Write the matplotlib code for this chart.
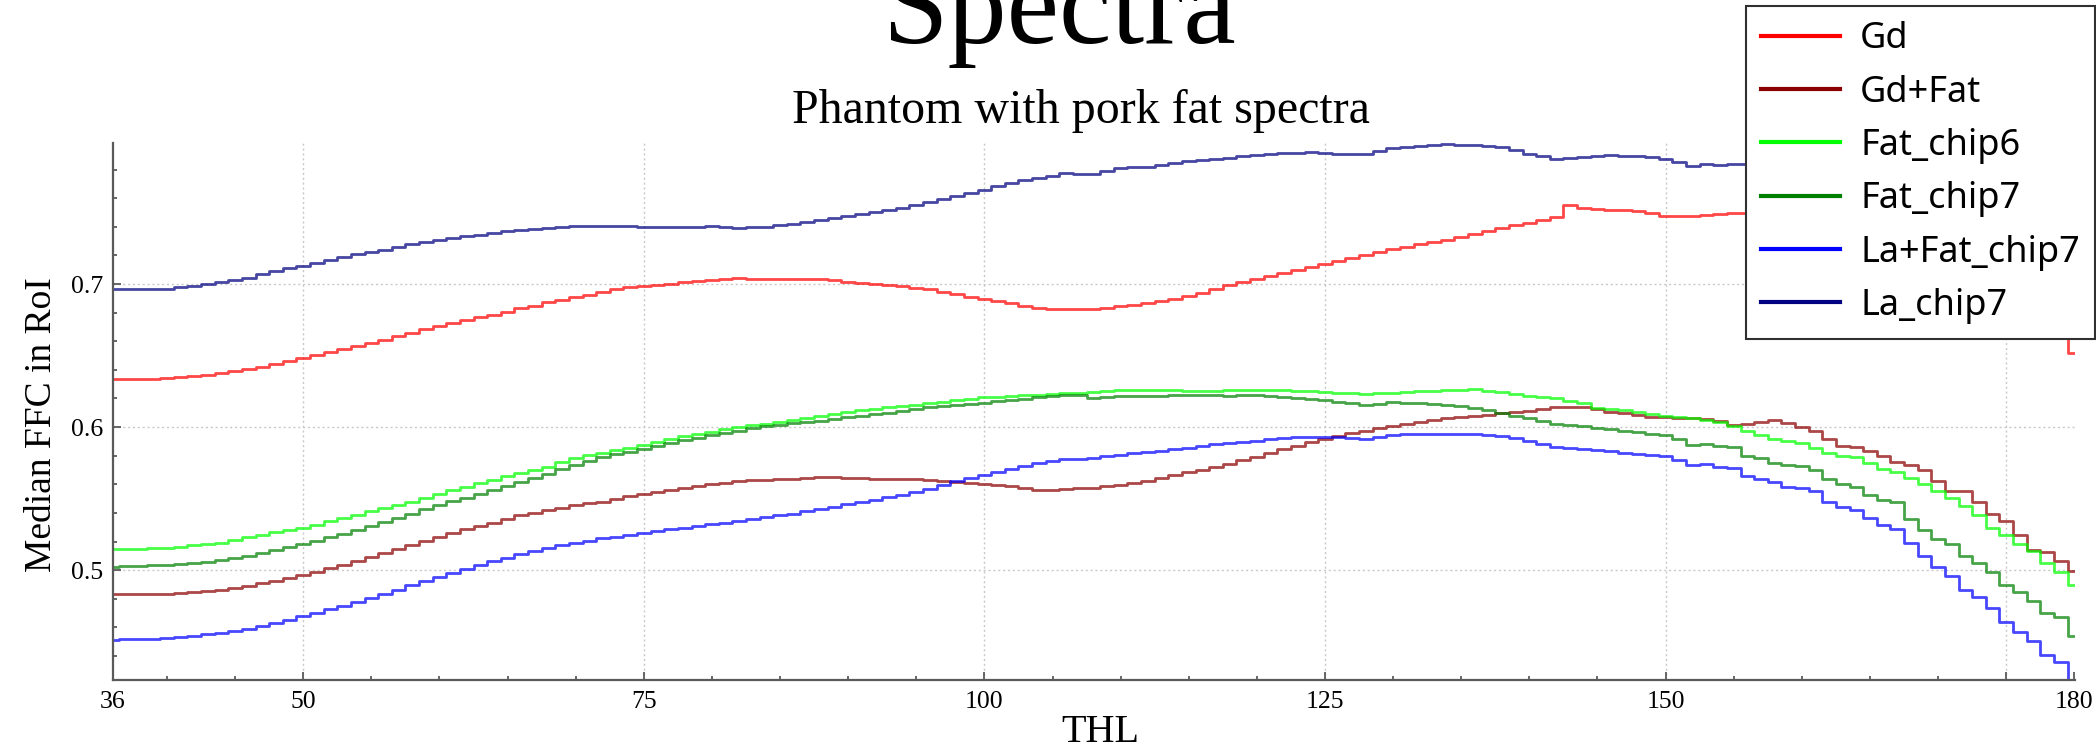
import numpy as np
import matplotlib
matplotlib.use('Agg')
import matplotlib.pyplot as plt
from matplotlib.ticker import MultipleLocator

# THL axis, one value per threshold step
thl = np.arange(36, 181)

gd = [0.6336, 0.6336, 0.6336, 0.6338, 0.6340, 0.6347, 0.6355, 0.6364, 0.6375, 0.6389,
      0.6404, 0.6421, 0.6440, 0.6461, 0.6482, 0.6504, 0.6526, 0.6548, 0.6570, 0.6590,
      0.6611, 0.6636, 0.6660, 0.6684, 0.6708, 0.6729, 0.6750, 0.6768, 0.6786, 0.6808,
      0.6830, 0.6850, 0.6871, 0.6890, 0.6910, 0.6925, 0.6945, 0.6963, 0.6976, 0.6985,
      0.6993, 0.7003, 0.7012, 0.7020, 0.7029, 0.7035, 0.7041, 0.7038, 0.7036, 0.7035,
      0.7034, 0.7038, 0.7036, 0.7027, 0.7017, 0.7008, 0.6998, 0.6990, 0.6983, 0.6974,
      0.6964, 0.6946, 0.6927, 0.6911, 0.6895, 0.6880, 0.6866, 0.6849, 0.6832, 0.6828,
      0.6825, 0.6825, 0.6825, 0.6836, 0.6847, 0.6856, 0.6866, 0.6880, 0.6895, 0.6917,
      0.6939, 0.6966, 0.6993, 0.7015, 0.7036, 0.7057, 0.7078, 0.7100, 0.7122, 0.7142,
      0.7163, 0.7182, 0.7202, 0.7222, 0.7243, 0.7262, 0.7280, 0.7295, 0.7309, 0.7331,
      0.7353, 0.7374, 0.7394, 0.7410, 0.7426, 0.7447, 0.7467, 0.7552, 0.7533, 0.7527,
      0.7521, 0.7515, 0.7509, 0.7494, 0.7479, 0.7476, 0.7474, 0.7480, 0.7487, 0.7499,
      0.7495, 0.7490, 0.7480, 0.7470, 0.7450, 0.7430, 0.7400, 0.7370, 0.7350, 0.7320,
      0.7290, 0.7260, 0.7220, 0.7180, 0.7140, 0.7090, 0.7040, 0.6990, 0.6940, 0.6890,
      0.6840, 0.6790, 0.6740, 0.6700, 0.6520]

gd_fat = [0.4830, 0.4831, 0.4832, 0.4833, 0.4835, 0.4841, 0.4847, 0.4855, 0.4864, 0.4877,
          0.4890, 0.4907, 0.4925, 0.4946, 0.4968, 0.4990, 0.5012, 0.5039, 0.5066, 0.5092,
          0.5119, 0.5147, 0.5175, 0.5203, 0.5231, 0.5258, 0.5285, 0.5309, 0.5333, 0.5358,
          0.5382, 0.5400, 0.5418, 0.5437, 0.5455, 0.5467, 0.5479, 0.5498, 0.5516, 0.5532,
          0.5547, 0.5562, 0.5577, 0.5589, 0.5601, 0.5611, 0.5620, 0.5627, 0.5633, 0.5637,
          0.5640, 0.5645, 0.5650, 0.5648, 0.5645, 0.5641, 0.5637, 0.5637, 0.5637, 0.5635,
          0.5633, 0.5626, 0.5618, 0.5610, 0.5601, 0.5594, 0.5586, 0.5572, 0.5557, 0.5561,
          0.5565, 0.5571, 0.5577, 0.5587, 0.5596, 0.5611, 0.5626, 0.5644, 0.5662, 0.5683,
          0.5703, 0.5723, 0.5742, 0.5767, 0.5791, 0.5818, 0.5844, 0.5869, 0.5893, 0.5916,
          0.5939, 0.5958, 0.5976, 0.5992, 0.6007, 0.6022, 0.6036, 0.6049, 0.6061, 0.6070,
          0.6078, 0.6088, 0.6098, 0.6106, 0.6114, 0.6127, 0.6139, 0.6143, 0.6138, 0.6129,
          0.6109, 0.6098, 0.6085, 0.6073, 0.6068, 0.6061, 0.6061, 0.6054, 0.6041, 0.6017,
          0.6024, 0.6036, 0.6049, 0.6032, 0.6000, 0.5976, 0.5920, 0.5866, 0.5861, 0.5835,
          0.5798, 0.5757, 0.5732, 0.5698, 0.5625, 0.5550, 0.5550, 0.5479, 0.5394, 0.5345,
          0.5246, 0.5139, 0.5127, 0.5061, 0.4993]

fat_chip6 = [0.5146, 0.5148, 0.5150, 0.5153, 0.5156, 0.5164, 0.5173, 0.5182, 0.5192, 0.5210,
             0.5229, 0.5247, 0.5265, 0.5281, 0.5297, 0.5319, 0.5341, 0.5364, 0.5387, 0.5411,
             0.5436, 0.5457, 0.5479, 0.5506, 0.5533, 0.5558, 0.5582, 0.5606, 0.5630, 0.5655,
             0.5679, 0.5701, 0.5723, 0.5753, 0.5783, 0.5804, 0.5822, 0.5839, 0.5856, 0.5877,
             0.5898, 0.5918, 0.5937, 0.5952, 0.5968, 0.5984, 0.6000, 0.6012, 0.6024, 0.6037,
             0.6049, 0.6064, 0.6078, 0.6092, 0.6105, 0.6116, 0.6127, 0.6137, 0.6146, 0.6157,
             0.6168, 0.6178, 0.6187, 0.6197, 0.6207, 0.6213, 0.6219, 0.6223, 0.6226, 0.6231,
             0.6236, 0.6241, 0.6245, 0.6251, 0.6256, 0.6259, 0.6261, 0.6258, 0.6256, 0.6253,
             0.6251, 0.6254, 0.6256, 0.6262, 0.6261, 0.6258, 0.6256, 0.6253, 0.6251, 0.6245,
             0.6239, 0.6236, 0.6232, 0.6236, 0.6239, 0.6244, 0.6249, 0.6253, 0.6256, 0.6262,
             0.6263, 0.6254, 0.6244, 0.6232, 0.6219, 0.6210, 0.6202, 0.6185, 0.6168, 0.6134,
             0.6129, 0.6122, 0.6105, 0.6090, 0.6080, 0.6073, 0.6066, 0.6049, 0.6036, 0.6007,
             0.5976, 0.5944, 0.5915, 0.5903, 0.5886, 0.5854, 0.5818, 0.5798, 0.5788, 0.5749,
             0.5708, 0.5684, 0.5647, 0.5599, 0.5550, 0.5501, 0.5448, 0.5385, 0.5295, 0.5246,
             0.5185, 0.5131, 0.5051, 0.4985, 0.4895]

fat_chip7 = [0.5024, 0.5027, 0.5030, 0.5033, 0.5036, 0.5043, 0.5050, 0.5060, 0.5070, 0.5086,
             0.5102, 0.5120, 0.5139, 0.5160, 0.5182, 0.5206, 0.5231, 0.5255, 0.5280, 0.5309,
             0.5338, 0.5366, 0.5394, 0.5425, 0.5455, 0.5480, 0.5504, 0.5530, 0.5557, 0.5585,
             0.5613, 0.5644, 0.5674, 0.5705, 0.5735, 0.5763, 0.5791, 0.5809, 0.5827, 0.5848,
             0.5869, 0.5889, 0.5908, 0.5927, 0.5946, 0.5961, 0.5976, 0.5991, 0.6005, 0.6016,
             0.6027, 0.6037, 0.6046, 0.6057, 0.6068, 0.6079, 0.6090, 0.6102, 0.6114, 0.6127,
             0.6139, 0.6146, 0.6153, 0.6162, 0.6170, 0.6179, 0.6187, 0.6197, 0.6207, 0.6216,
             0.6224, 0.6222, 0.6205, 0.6212, 0.6219, 0.6216, 0.6214, 0.6219, 0.6224, 0.6224,
             0.6224, 0.6222, 0.6219, 0.6222, 0.6224, 0.6216, 0.6207, 0.6201, 0.6195, 0.6187,
             0.6178, 0.6166, 0.6153, 0.6164, 0.6175, 0.6170, 0.6165, 0.6159, 0.6153, 0.6144,
             0.6134, 0.6116, 0.6098, 0.6080, 0.6061, 0.6043, 0.6024, 0.6015, 0.6007, 0.5993,
             0.5988, 0.5976, 0.5964, 0.5951, 0.5944, 0.5920, 0.5878, 0.5883, 0.5866, 0.5861,
             0.5798, 0.5781, 0.5749, 0.5732, 0.5725, 0.5701, 0.5635, 0.5599, 0.5579, 0.5526,
             0.5489, 0.5477, 0.5360, 0.5282, 0.5221, 0.5185, 0.5100, 0.5051, 0.4985, 0.4893,
             0.4847, 0.4786, 0.4701, 0.4669, 0.4543]

la_fat_chip7 = [0.4513, 0.4516, 0.4519, 0.4522, 0.4525, 0.4534, 0.4543, 0.4552, 0.4562, 0.4576,
                0.4591, 0.4612, 0.4633, 0.4654, 0.4676, 0.4700, 0.4725, 0.4752, 0.4779, 0.4806,
                0.4834, 0.4864, 0.4895, 0.4922, 0.4949, 0.4977, 0.5005, 0.5033, 0.5061, 0.5087,
                0.5114, 0.5136, 0.5158, 0.5175, 0.5192, 0.5206, 0.5222, 0.5235, 0.5248, 0.5260,
                0.5272, 0.5285, 0.5297, 0.5309, 0.5321, 0.5333, 0.5345, 0.5358, 0.5370, 0.5382,
                0.5394, 0.5410, 0.5426, 0.5443, 0.5460, 0.5475, 0.5491, 0.5510, 0.5528, 0.5548,
                0.5569, 0.5594, 0.5620, 0.5641, 0.5662, 0.5686, 0.5710, 0.5728, 0.5747, 0.5761,
                0.5776, 0.5780, 0.5785, 0.5797, 0.5808, 0.5818, 0.5827, 0.5835, 0.5844, 0.5857,
                0.5869, 0.5879, 0.5888, 0.5897, 0.5905, 0.5915, 0.5925, 0.5930, 0.5934, 0.5932,
                0.5929, 0.5923, 0.5917, 0.5932, 0.5946, 0.5950, 0.5954, 0.5954, 0.5954, 0.5952,
                0.5949, 0.5943, 0.5937, 0.5921, 0.5905, 0.5883, 0.5861, 0.5852, 0.5844, 0.5837,
                0.5832, 0.5820, 0.5813, 0.5808, 0.5796, 0.5771, 0.5735, 0.5740, 0.5723, 0.5711,
                0.5655, 0.5638, 0.5613, 0.5581, 0.5577, 0.5552, 0.5479, 0.5443, 0.5418, 0.5363,
                0.5314, 0.5285, 0.5187, 0.5102, 0.5022, 0.4956, 0.4859, 0.4810, 0.4737, 0.4640,
                0.4567, 0.4506, 0.4409, 0.4360, 0.4150]

la_chip7 = [0.6964, 0.6965, 0.6966, 0.6967, 0.6968, 0.6978, 0.6988, 0.7000, 0.7012, 0.7028,
            0.7044, 0.7067, 0.7090, 0.7110, 0.7129, 0.7150, 0.7170, 0.7189, 0.7207, 0.7224,
            0.7241, 0.7260, 0.7280, 0.7295, 0.7309, 0.7321, 0.7333, 0.7346, 0.7358, 0.7369,
            0.7380, 0.7387, 0.7394, 0.7399, 0.7404, 0.7406, 0.7408, 0.7405, 0.7404, 0.7402,
            0.7401, 0.7400, 0.7399, 0.7402, 0.7406, 0.7400, 0.7394, 0.7398, 0.7401, 0.7410,
            0.7418, 0.7432, 0.7445, 0.7460, 0.7474, 0.7489, 0.7504, 0.7520, 0.7535, 0.7553,
            0.7572, 0.7592, 0.7613, 0.7635, 0.7657, 0.7682, 0.7706, 0.7724, 0.7742, 0.7758,
            0.7774, 0.7772, 0.7768, 0.7790, 0.7810, 0.7815, 0.7820, 0.7835, 0.7849, 0.7857,
            0.7864, 0.7874, 0.7883, 0.7892, 0.7900, 0.7909, 0.7917, 0.7919, 0.7920, 0.7916,
            0.7912, 0.7910, 0.7908, 0.7928, 0.7949, 0.7959, 0.7968, 0.7972, 0.7976, 0.7974,
            0.7971, 0.7966, 0.7961, 0.7937, 0.7912, 0.7894, 0.7876, 0.7882, 0.7888, 0.7894,
            0.7900, 0.7897, 0.7893, 0.7885, 0.7876, 0.7852, 0.7827, 0.7839, 0.7835, 0.7839,
            0.7840, 0.7830, 0.7820, 0.7810, 0.7790, 0.7770, 0.7750, 0.7720, 0.7690, 0.7660,
            0.7630, 0.7590, 0.7550, 0.7510, 0.7470, 0.7420, 0.7370, 0.7320, 0.7270, 0.7220,
            0.7170, 0.7120, 0.7070, 0.7020, 0.6970]

names = ['Gd', 'Gd+Fat', 'Fat_chip6', 'Fat_chip7', 'La+Fat_chip7', 'La_chip7']
series = [gd, gd_fat, fat_chip6, fat_chip7, la_fat_chip7, la_chip7]
colors = ['#ff0000', '#8b0000', '#00ff00', '#008000', '#0000ff', '#000080']

x_labels = ['36', '50', '75', '100', '125', '150', '', '180']
x_ticks = [36, 50, 75, 100, 125, 150, 175, 180]
x_grid = [50, 75, 100, 125, 150, 175]
y_ticks = [0.5, 0.6, 0.7]

W, H = 2096, 753
fig = plt.figure(figsize=(W / 100, H / 100), dpi=100)
ax = fig.add_axes([112.5 / W, 1 - 680 / H, (2075 - 112.5) / W, (680 - 143) / H])

serif = 'Liberation Serif'
axis_col = '#5a5a5a'

# dotted grid drawn by hand so 36 / 180 get no gridline
for g in x_grid:
    ax.axvline(g, color='#c8c8c8', lw=1, ls=(0, (1.5, 2)), zorder=0)
for g in y_ticks:
    ax.axhline(g, color='#c8c8c8', lw=1, ls=(0, (1.5, 2)), zorder=0)

for name, vals, c in zip(names, series, colors):
    ax.plot(thl, vals, drawstyle='steps-mid', color=c, lw=2.0, alpha=0.72, label=name)

ax.set_xlim(36, 180.05)
ax.set_ylim(0.4232, 0.7986)

ax.set_xticks(x_ticks)
ax.set_xticklabels(x_labels)
ax.xaxis.set_minor_locator(MultipleLocator(5))
ax.set_yticks(y_ticks)
ax.set_yticklabels(['0.5', '0.6', '0.7'])
ax.yaxis.set_minor_locator(MultipleLocator(0.02))

ax.tick_params(which='both', direction='in', colors=axis_col, labelcolor='black',
               labelsize=18.5, width=1.3)
ax.tick_params(which='major', length=5.5)
ax.tick_params(which='minor', length=3)
ax.tick_params(axis='y', pad=7)
ax.tick_params(axis='x', pad=8)
for lab in ax.get_xticklabels() + ax.get_yticklabels():
    lab.set_family(serif)

for s in ['top', 'right']:
    ax.spines[s].set_visible(False)
for s in ['left', 'bottom']:
    ax.spines[s].set_color(axis_col)
    ax.spines[s].set_linewidth(1.6)

ax.set_xlabel('THL', family=serif, fontsize=29)
ax.xaxis.set_label_coords(0.5035, -0.063)
ax.set_ylabel('Median FFC in RoI', family=serif, fontsize=27)
ax.yaxis.set_label_coords(-0.0275, 0.475)

fig.text(1059 / W, 1 - 43 / H, 'Spectra', family=serif, fontsize=85,
         ha='center', va='baseline')
fig.text(1081 / W, 1 - 123 / H, 'Phantom with pork fat spectra', family=serif,
         fontsize=34.5, ha='center', va='baseline')

leg = ax.legend(loc='upper right', bbox_to_anchor=(2095 / W, 1 - 6 / H),
                bbox_transform=fig.transFigure, borderaxespad=0,
                prop={'family': 'Noto Sans', 'size': 26}, fancybox=False,
                framealpha=1, edgecolor='#303030', handlelength=2.2,
                handletextpad=0.55, labelspacing=0.48, borderpad=0.42)
leg.get_frame().set_linewidth(1.5)
for h in leg.legend_handles:
    h.set_alpha(1)
    h.set_linewidth(3)

fig.savefig('out.png', dpi=100)
